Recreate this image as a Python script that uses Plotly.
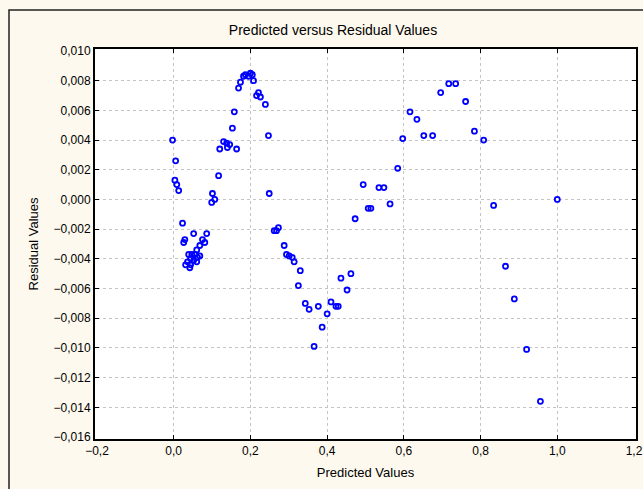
import plotly.graph_objects as go

# Predicted values and their residuals
predicted = [
    -0.003, 0.005, 0.003, 0.008, 0.013,
    0.023, 0.052, 0.029, 0.026, 0.086, 0.075, 0.081, 0.068, 0.060,
    0.039, 0.047, 0.055, 0.062, 0.044, 0.052, 0.060, 0.036, 0.044, 0.031, 0.042, 0.068,
    0.117, 0.101, 0.099, 0.107,
    0.120, 0.130, 0.138, 0.140, 0.146, 0.164, 0.153, 0.158,
    0.169, 0.174, 0.182, 0.187, 0.195, 0.200, 0.205, 0.208,
    0.216, 0.221, 0.226, 0.239, 0.247, 0.249,
    0.262, 0.268, 0.273, 0.288, 0.294, 0.301, 0.309, 0.314,
    0.330, 0.325, 0.343, 0.353, 0.377, 0.410, 0.423, 0.429,
    0.400, 0.387, 0.366, 0.462, 0.436, 0.452,
    0.473, 0.494, 0.507, 0.514, 0.535, 0.548, 0.564,
    0.584, 0.597, 0.616, 0.634, 0.652, 0.675,
    0.696, 0.717, 0.735, 0.761, 0.784, 0.808, 0.834,
    1.000, 0.865, 0.888, 0.920, 0.956,
]
residual = [
    0.0040, 0.0026, 0.0013, 0.0010, 0.0006,
    -0.0016, -0.0023, -0.0027, -0.0029, -0.0023, -0.0027, -0.0029, -0.0031, -0.0034,
    -0.0037, -0.0037, -0.0037, -0.0039, -0.0040, -0.0041, -0.0042, -0.0042, -0.0044, -0.0044, -0.0046, -0.0038,
    0.0016, 0.0004, -0.0002, 0.0000,
    0.0034, 0.0039, 0.0038, 0.0035, 0.0037, 0.0034, 0.0048, 0.0059,
    0.0075, 0.0079, 0.0083, 0.0084, 0.0083, 0.0085, 0.0084, 0.0080,
    0.0070, 0.0072, 0.0069, 0.0064, 0.0043, 0.0004,
    -0.0021, -0.0021, -0.0019, -0.0031, -0.0037, -0.0038, -0.0039, -0.0042,
    -0.0048, -0.0058, -0.0070, -0.0074, -0.0072, -0.0069, -0.0072, -0.0072,
    -0.0077, -0.0086, -0.0099, -0.0050, -0.0053, -0.0061,
    -0.0013, 0.0010, -0.0006, -0.0006, 0.0008, 0.0008, -0.0003,
    0.0021, 0.0041, 0.0059, 0.0054, 0.0043, 0.0043,
    0.0072, 0.0078, 0.0078, 0.0066, 0.0046, 0.0040, -0.0004,
    0.0000, -0.0045, -0.0067, -0.0101, -0.0136,
]

x_ticks = [-0.2, 0.0, 0.2, 0.4, 0.6, 0.8, 1.0, 1.2]
y_ticks = [0.010, 0.008, 0.006, 0.004, 0.002, 0.000, -0.002, -0.004,
           -0.006, -0.008, -0.010, -0.012, -0.014, -0.016]

W, H = 643, 489
M_L, M_R, M_T, M_B = 97, 9, 51, 52
font = "Liberation Sans, Arial, sans-serif"

fig = go.Figure(go.Scatter(
    x=predicted, y=residual, mode="markers",
    marker=dict(symbol="circle-open", size=5, color="#0000ff",
                line=dict(width=1.8, color="#0000ff")),
    hoverinfo="x+y",
))

axis_common = dict(
    showline=True, linecolor="#000000", linewidth=2, mirror="ticks",
    ticks="inside", ticklen=4, tickcolor="#000000", tickwidth=1,
    showgrid=True, gridcolor="#c4c4c4", griddash="dot", gridwidth=1,
    zeroline=False, automargin=False,
    tickfont=dict(family=font, size=12, color="#000000"),
)

fig.update_xaxes(range=[-0.2, 1.2], tickvals=x_ticks, tickformat=".1f",
                 title=dict(text="Predicted Values", standoff=12,
                            font=dict(family=font, size=13, color="#000000")),
                 **axis_common)
fig.update_yaxes(range=[-0.016, 0.010], tickvals=y_ticks, tickformat=".3f",
                 title=dict(text="Residual Values", standoff=14,
                            font=dict(family=font, size=13, color="#000000")),
                 **axis_common)

fig.update_layout(
    width=W, height=H,
    margin=dict(l=M_L, r=M_R, t=M_T, b=M_B, pad=2),
    paper_bgcolor="#fef9ee", plot_bgcolor="#ffffff",
    separators=",.",
    showlegend=False,
    title=dict(text="Predicted versus Residual Values", x=333 / W, xanchor="center",
               y=1 - 30 / H, yanchor="middle",
               font=dict(family=font, size=14, color="#000000")),
    shapes=[dict(type="rect", xref="paper", yref="paper",
                 x0=(9 - M_L) / (W - M_L - M_R), x1=1.2,
                 y0=-0.5, y1=1 + (M_T - 10) / (H - M_T - M_B),
                 line=dict(color="#222222", width=1.5), layer="below")],
)

fig.write_html("out.html")
